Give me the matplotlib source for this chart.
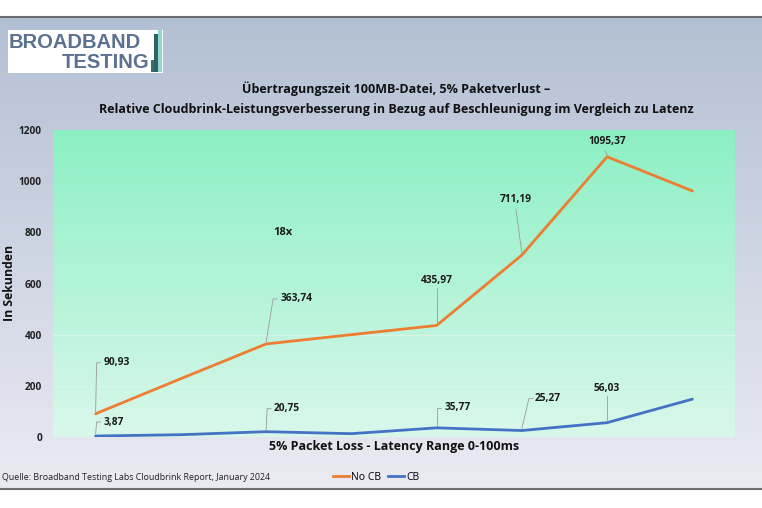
import numpy as np
import matplotlib
matplotlib.use("Agg")
import matplotlib.pyplot as plt
from matplotlib.patches import Rectangle
from matplotlib.lines import Line2D

plt.rcParams['font.family'] = ['Open Sans', 'DejaVu Sans']

# ---- data ----
categories = list(range(8))
no_cb = [90.93, 228, 363.74, 400, 435.97, 711.19, 1095.37, 962]
cb = [3.87, 9, 20.75, 13, 35.77, 25.27, 56.03, 148]
no_cb_labels = {0: "90,93", 2: "363,74", 4: "435,97", 5: "711,19", 6: "1095,37"}
cb_labels = {0: "3,87", 2: "20,75", 4: "35,77", 5: "25,27", 6: "56,03"}
yticks = [0, 200, 400, 600, 800, 1000, 1200]
title = "Übertragungszeit 100MB-Datei, 5% Paketverlust –\nRelative Cloudbrink-Leistungsverbesserung in Bezug auf Beschleunigung im Vergleich zu Latenz"

W, H = 762, 508
fig = plt.figure(figsize=(W / 100, H / 100), dpi=100)

def fx(px):
    return px / W

def fy(py):
    return 1 - py / H

# background gradient
bg = fig.add_axes([0, fy(489), 1, fy(17) - fy(489)], zorder=-10)
grad = np.linspace(0, 1, 256).reshape(-1, 1)
top_c = np.array([0.70, 0.75, 0.83])
bot_c = np.array([0.92, 0.92, 0.95])
img = top_c[None, None, :] * (1 - grad[:, :, None]) + bot_c[None, None, :] * grad[:, :, None]
bg.imshow(img, aspect='auto', extent=[0, 1, 0, 1], origin='upper')
bg.set_axis_off()

fig.add_artist(Line2D([0, 1], [fy(17), fy(17)], color='#6e6e6e', lw=1.5, transform=fig.transFigure))
fig.add_artist(Line2D([0, 1], [fy(489), fy(489)], color='#6e6e6e', lw=1.5, transform=fig.transFigure))

# logo
fig.add_artist(Rectangle((fx(8), fy(73)), fx(163) - fx(8), fy(30) - fy(73), transform=fig.transFigure,
                         facecolor='white', edgecolor='none', zorder=2))
logo_col = '#5b7190'
fig.text(fx(9), fy(43), "BROADBAND", color=logo_col, fontsize=14.5, fontweight='bold',
         va='center', ha='left', zorder=3, family=['Liberation Sans'])
fig.text(fx(149), fy(62), "TESTING", color=logo_col, fontsize=14.5, fontweight='bold',
         va='center', ha='right', zorder=3, family=['Liberation Sans'])
for x0, y0, h, c in [(151, 60, 12, '#3a6e6e'), (154, 34, 38, '#2f6363'), (158, 30, 42, '#8fd8d0')]:
    fig.add_artist(Rectangle((fx(x0), fy(y0 + h)), fx(4), h / H, transform=fig.transFigure,
                             facecolor=c, edgecolor='none', zorder=3))

# title
fig.text(fx(396), fy(99), title, ha='center', va='center', fontsize=9.0, fontweight='bold',
         linespacing=1.7, color='#111111')

# plot axes
ax = fig.add_axes([fx(53), fy(437), fx(735) - fx(53), fy(130) - fy(437)])
ax.set_xlim(-0.5, 7.5)
ax.set_ylim(0, 1200)
g = np.linspace(0, 1, 256).reshape(-1, 1)
ptop = np.array([0.55, 0.94, 0.77])
pbot = np.array([0.85, 0.97, 0.92])
pimg = ptop[None, None, :] * (1 - g[:, :, None]) + pbot[None, None, :] * g[:, :, None]
ax.imshow(pimg, aspect='auto', extent=[-0.5, 7.5, 0, 1200], origin='upper', zorder=0)
for yv in (200, 400):
    ax.axhline(yv, color='#d6f6e8', lw=0.8, zorder=1)

orange = '#ED7D31'
blue = '#4472C4'
ax.plot(categories, no_cb, color=orange, lw=2, zorder=3, solid_capstyle='round')
ax.plot(categories, cb, color=blue, lw=2, zorder=3, solid_capstyle='round')

for s in ax.spines.values():
    s.set_visible(False)
ax.set_xticks([])
ax.set_yticks(yticks)
ax.set_yticklabels([str(v) for v in yticks], fontsize=7.3, fontweight='bold', color='#222222')
ax.tick_params(axis='y', length=0, pad=8)
ax.set_xlabel("5% Packet Loss - Latency Range 0-100ms", fontsize=9.0, fontweight='bold',
              labelpad=2, color='#111111')
fig.text(fx(10), fy(283), "In Sekunden", rotation=90, ha='center', va='center',
         fontsize=8.8, fontweight='bold', color='#111111')

# leader-line layouts in pixels relative to the data point:
# (line end dx, line end dy, text x dx, text y dy, ha, horizontal tick)
no_off = {0: (1, 51, 8, 51, 'left', True),
          2: (7, 45, 14, 45, 'left', True),
          4: (0, 37, 0, 45, 'center', False),
          5: (-6, 46, -6, 56, 'center', False),
          6: (-2, 6, 0, 15, 'center', False)}
cb_off = {0: (1, 14, 8, 14, 'left', True),
          2: (1, 23, 8, 23, 'left', True),
          4: (0, 20, 8, 20, 'left', True),
          5: (7, 32, 13, 32, 'left', True),
          6: (0, 27, 0, 34, 'center', False)}

fig.canvas.draw()
to_disp = ax.transData.transform
to_data = ax.transData.inverted().transform

def annotate(vals, labels, offs):
    for i, lab in labels.items():
        lx, ly, tx, ty, ha, tick = offs[i]
        px, py = to_disp((categories[i], vals[i]))
        pts = [(px, py + 2), (px + lx, py + ly)]
        if tick:
            pts.append((px + lx + 4, py + ly))
        dpts = to_data(np.array(pts))
        ax.plot(dpts[:, 0], dpts[:, 1], color='#9a9a9a', lw=0.6, zorder=4)
        tpos = to_data((px + tx, py + ty))
        ax.text(tpos[0], tpos[1], lab, ha=ha, va='center', fontsize=7.3, fontweight='bold',
                color='#1a1a1a', zorder=5)

annotate(no_cb, no_cb_labels, no_off)
annotate(cb, cb_labels, cb_off)

ax.text(2.2, 800, "18x", fontsize=8, fontweight='bold', color='#1a1a1a', ha='center', va='center')

fig.legend(handles=[Line2D([], [], color=orange, lw=2), Line2D([], [], color=blue, lw=2)],
           labels=['No CB', 'CB'], loc='center', bbox_to_anchor=(fx(376), fy(477)), ncol=2,
           frameon=False, fontsize=7.5, handlelength=1.6, handletextpad=0.2, columnspacing=0.6)

fig.text(fx(2), fy(478), "Quelle: Broadband Testing Labs Cloudbrink Report, January 2024",
         fontsize=6.4, ha='left', va='center', color='#222222')

fig.savefig("out.png", dpi=100)
